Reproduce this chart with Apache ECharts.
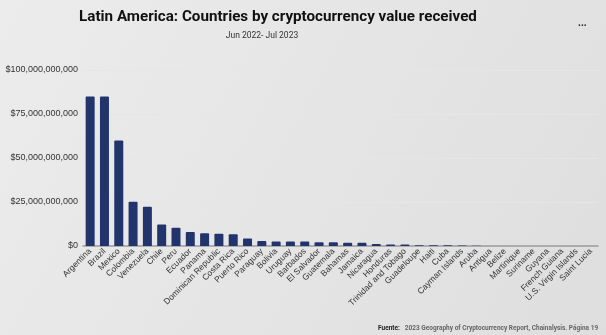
<!DOCTYPE html>
<html>
<head>
<meta charset="utf-8">
<script src="https://cdn.jsdelivr.net/npm/echarts@6/dist/echarts.min.js"></script>
<style>
  html, body { margin: 0; padding: 0; }
  #chart { width: 606px; height: 335px; }
</style>
</head>
<body>
<div id="chart"></div>
<script>
// Countries, ordered by crypto value received (Jun 2022 - Jul 2023)
const countries = [
  'Argentina', 'Brazil', 'Mexico', 'Colombia', 'Venezuela', 'Chile', 'Peru',
  'Ecuador', 'Panama', 'Dominican Republic', 'Costa Rica', 'Puerto Rico',
  'Paraguay', 'Bolivia', 'Uruguay', 'Barbados', 'El Salvador', 'Guatemala',
  'Bahamas', 'Jamaica', 'Nicaragua', 'Honduras', 'Trinidad and Tobago',
  'Guadeloupe', 'Haiti', 'Cuba', 'Cayman Islands', 'Aruba', 'Antigua',
  'Belize', 'Martinique', 'Suriname', 'Guyana', 'French Guiana',
  'U.S. Virgin Islands', 'Saint Lucia'
];

// Value received, in billions of USD
const valueBillions = [
  85, 85, 60, 25.2, 22.3, 12.2, 10.4,
  7.9, 7.3, 7.0, 6.7, 4.2,
  2.9, 2.5, 2.5, 2.5, 2.2, 2.2,
  1.8, 1.8, 1.1, 0.8, 0.8,
  0.4, 0.4, 0.4, 0.35, 0.08, 0.07,
  0.06, 0.02, 0.02, 0.015, 0.01,
  0.01, 0.008
];

// Y axis ticks, in billions of USD
const yTicks = [0, 25, 50, 75, 100];

const chart = echarts.init(document.getElementById('chart'), null, { renderer: 'canvas' });

const fmtUsd = v => '$' + Math.round(v * 1e9).toLocaleString('en-US');

chart.setOption({
  backgroundColor: new echarts.graphic.LinearGradient(0, 0, 1, 1, [
    { offset: 0, color: '#ececec' },
    { offset: 1, color: '#dedede' }
  ]),
  animation: false,
  title: [
    {
      text: 'Latin America: Countries by cryptocurrency value received',
      left: 278, top: 10, textAlign: 'center', padding: 0,
      textStyle: { fontFamily: 'Roboto', fontWeight: 'bold', fontSize: 15.2, color: '#111' }
    },
    {
      text: 'Jun 2022- Jul 2023',
      left: 262, top: 31.5, textAlign: 'center', padding: 0,
      textStyle: { fontFamily: 'Roboto', fontWeight: 'normal', fontSize: 8.5, color: '#333' }
    },
    {
      text: '...',
      left: 578, top: 18, padding: 0,
      textStyle: { fontFamily: 'Roboto', fontWeight: 'bold', fontSize: 10, color: '#222' }
    },
    {
      text: '{b|Fuente:} {n|2023 Geography of Cryptocurrency Report, Chainalysis. Página 19}',
      left: 378, top: 319, padding: 0,
      textStyle: {
        rich: {
          b: { fontFamily: 'Roboto', fontWeight: 'bold', fontSize: 6.5, color: '#222' },
          n: { fontFamily: 'Roboto', fontSize: 6.5, color: '#666' }
        }
      }
    }
  ],
  grid: { left: 83, right: 8, top: 70, bottom: 89, containLabel: false, outerBoundsMode: 'none' },
  xAxis: {
    type: 'category',
    data: countries,
    axisLine: { lineStyle: { color: '#9a9a9a', width: 1.5 } },
    axisTick: { show: false },
    axisLabel: {
      interval: 0, rotate: 45, margin: 4,
      fontFamily: 'Liberation Sans', fontSize: 8.5, color: '#333'
    }
  },
  yAxis: {
    type: 'value',
    min: yTicks[0], max: yTicks[yTicks.length - 1], interval: yTicks[1] - yTicks[0],
    axisLine: { show: false },
    axisTick: { show: false },
    splitLine: { lineStyle: { color: '#e6e6e6', width: 1 } },
    axisLabel: {
      formatter: fmtUsd, margin: 5,
      fontFamily: 'Liberation Sans', fontSize: 9, color: '#333'
    }
  },
  series: [{
    type: 'bar',
    data: valueBillions,
    barWidth: 9,
    itemStyle: { color: '#22346c', borderRadius: [1, 1, 0, 0] }
  }]
});
</script>
</body>
</html>
